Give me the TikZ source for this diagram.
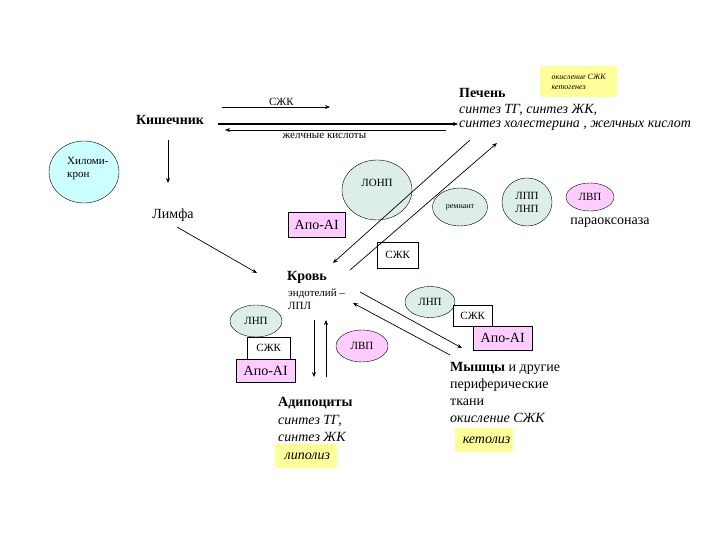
\documentclass[tikz,border=0pt]{standalone}
\usepackage{fontspec}
\setmainfont{Liberation Serif}
\usepackage{xcolor}
\definecolor{cyanfill}{HTML}{CCFFFF}
\definecolor{greyfill}{HTML}{DDEEE6}
\definecolor{pinkfill}{HTML}{FFCCFF}
\definecolor{yelfill}{HTML}{FFFF99}
\usetikzlibrary{arrows.meta,positioning,shapes.geometric}
\newcommand{\bigtxt}{\fontsize{14}{17}\selectfont}
\newcommand{\smtxt}{\fontsize{11}{13}\selectfont}
\newcommand{\tinytxt}{\fontsize{8}{10}\selectfont}

\begin{document}
\begin{tikzpicture}[
      x=1pt, y=-1pt,
      >={Stealth[length=5pt,width=4pt]},
      every node/.style={font=\bigtxt, inner sep=1pt},
      lp/.style={draw, fill=#1, ellipse, minimum width=1pt, font=\smtxt},
      bx/.style={draw, fill=#1, inner sep=0pt, anchor=north west},
      note/.style={fill=yelfill, inner sep=0pt, anchor=north west, font=\bigtxt\itshape},
      txt/.style={anchor=west, align=left},
      arr/.style={->, line width=0.7pt},
      barr/.style={->, line width=1.4pt},
    ]
      \useasboundingbox (0,0) rectangle (720,540);
      % organs
      \node[font=\bigtxt\bfseries] (gut) at (170,120) {Кишечник};
      \node[txt, font=\bigtxt\bfseries] (liver) at (458,93) {Печень};
      \node[txt, font=\bigtxt\itshape] (liv1) at (458,110) {синтез ТГ, синтез ЖК,};
      \node[txt, font=\bigtxt\itshape] (liv2) at (458,126) {синтез  холестерина , желчных кислот};
      \node[note, minimum width=77pt, minimum height=31pt, font=\tinytxt\itshape, align=left] (ketog) at (540,66)
        {окисление СЖК\\кетогенез};
      \node (lymph) at (173,215) {Лимфа};
      \node[txt, font=\bigtxt\bfseries] (blood) at (286,277) {Кровь};
      \node[txt, font=\smtxt, align=left] (lpl) at (287,299) {эндотелий --\\ЛПЛ};
      \node[txt, font=\bigtxt\bfseries, align=left] (adipo) at (277,403) {Адипоциты};
      \node[txt, font=\bigtxt\itshape, align=left] (adipo2) at (277,428) {синтез ТГ,\\синтез ЖК};
      \node[note, minimum width=62pt, minimum height=24pt] (lipol) at (275,444) {\,липолиз};
      \node[txt, align=left] (muscle) at (449,384) {\textbf{Мышцы} и другие\\периферические\\ткани};
      \node[txt, font=\bigtxt\itshape] (oxid) at (449,418) {окисление СЖК};
      \node[note, minimum width=58pt, minimum height=24pt] (ketol) at (455,428) {\,\,кетолиз};
      % particles
      \node[lp=cyanfill, minimum width=70pt, minimum height=62pt] (chylo) at (84,172) {};
      \node[txt, font=\smtxt, align=left] at (66,169) {Хиломи-\\крон};
      \node[lp=greyfill, minimum width=70pt, minimum height=60pt] (vldl) at (377,190) {};
      \node[font=\smtxt] at (377,183) {ЛОНП};
      \node[lp=greyfill, minimum width=55pt, minimum height=38pt, font=\tinytxt] (remn) at (460,207) {ремнант};
      \node[lp=greyfill, minimum width=50pt, minimum height=48pt, align=center] (idl) at (527,202) {ЛПП\\ЛНП};
      \node[lp=pinkfill, minimum width=48pt, minimum height=28pt] (hdl1) at (590,197) {ЛВП};
      \node (parox) at (610,223) {параоксоназа};
      \node[bx=pinkfill, minimum width=57pt, minimum height=25pt] (apo1) at (288,212) {Апо-AI};
      \node[bx=white, minimum width=41pt, minimum height=26pt, font=\smtxt] (ffa1) at (377,242) {СЖК};
      \node[lp=greyfill, minimum width=52pt, minimum height=32pt] (ldl2) at (256,321) {ЛНП};
      \node[bx=white, minimum width=43pt, minimum height=22pt, font=\smtxt] (ffa2) at (247,337) {СЖК};
      \node[bx=pinkfill, minimum width=59pt, minimum height=23pt] (apo2) at (236,359) {Апо-AI};
      \node[lp=greyfill, minimum width=50pt, minimum height=31pt] (ldl3) at (430,302) {ЛНП};
      \node[lp=pinkfill, minimum width=52pt, minimum height=32pt] (hdl2) at (362,346) {ЛВП};
      \node[bx=white, minimum width=39pt, minimum height=21pt, font=\smtxt] (ffa3) at (453,305) {СЖК};
      \node[bx=pinkfill, minimum width=59pt, minimum height=24pt] (apo3) at (473,326) {Апо-AI};
      % connector ends
      \coordinate (a1) at (222,107); \coordinate (a2) at (330,107);
      \coordinate (b1) at (218,124); \coordinate (b2) at (458,124);
      \coordinate (c1) at (446,130); \coordinate (c2) at (225,130);
      \coordinate (d1) at (168,140); \coordinate (d2) at (168,183);
      \coordinate (e1) at (177,227); \coordinate (e2) at (257,273);
      \coordinate (f1) at (470,140); \coordinate (f2) at (333,263);
      \coordinate (g1) at (350,270); \coordinate (g2) at (497,143);
      \coordinate (h1) at (314,320); \coordinate (h2) at (314,377);
      \coordinate (i1) at (326,377); \coordinate (i2) at (326,320);
      \coordinate (j1) at (360,292); \coordinate (j2) at (462,348);
      \coordinate (k1) at (450,355); \coordinate (k2) at (353,303);
      \draw[arr] (a1) -- node[above, font=\smtxt, pos=0.55] {СЖК} (a2);
      \draw[barr] (b1) -- (b2);
      \draw[arr] (c1) -- node[below=2pt, font=\smtxt, pos=0.55] {желчные кислоты} (c2);
      \draw[arr] (d1) -- (d2);
      \draw[arr] (e1) -- (e2);
      \draw[arr] (f1) -- (f2);
      \draw[arr] (g1) -- (g2);
      \draw[arr] (h1) -- (h2);
      \draw[arr] (i1) -- (i2);
      \draw[arr] (j1) -- (j2);
      \draw[arr] (k1) -- (k2);
    \end{tikzpicture}
\end{document}
